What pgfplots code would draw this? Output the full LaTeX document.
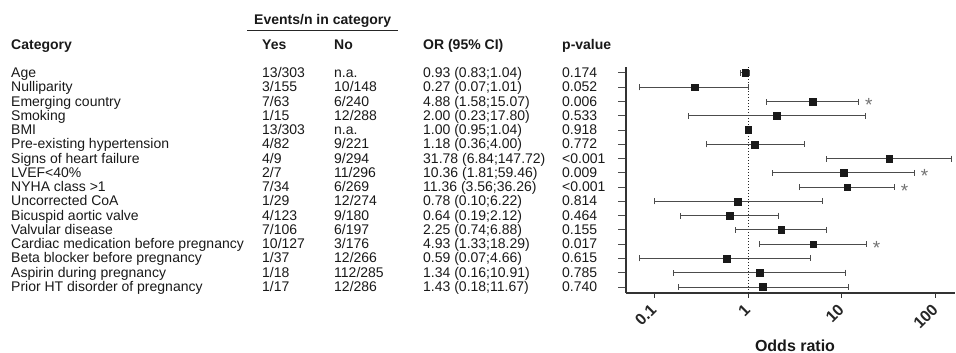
\documentclass[border=0pt]{standalone}
\usepackage{fontspec}
\setmainfont{Liberation Sans}
\usepackage{pgfplots}
\pgfplotsset{compat=1.18}
\usepackage{pgfplotstable}

\pgfplotstableread{
y or lo hi
16 0.93 0.83 1.04
15 0.27 0.07 1.01
14 4.88 1.58 15.07
13 2.00 0.23 17.80
12 1.00 0.95 1.04
11 1.18 0.36 4.00
10 31.78 6.84 147.72
9 10.36 1.81 59.46
8 11.36 3.56 36.26
7 0.78 0.10 6.22
6 0.64 0.19 2.12
5 2.25 0.74 6.88
4 4.93 1.33 18.29
3 0.59 0.07 4.66
2 1.34 0.16 10.91
1 1.43 0.18 11.67
}\ortable

\newcommand\tabrow[6]{%
  \pgfmathsetmacro\yy{275.5-(#1-1)*14.267}%
  \node[anchor=base west,inner sep=0] at (11pt,\yy pt) {#2};
  \node[anchor=base west,inner sep=0] at (262pt,\yy pt) {#3};
  \node[anchor=base west,inner sep=0] at (334pt,\yy pt) {#4};
  \node[anchor=base west,inner sep=0] at (423pt,\yy pt) {#5};
  \node[anchor=base west,inner sep=0] at (562pt,\yy pt) {#6};
}

\begin{document}
\fontsize{14}{16}\selectfont
\begin{tikzpicture}
\useasboundingbox (0,0) rectangle (956pt,353pt);
% header
\begin{scope}[every node/.style={font=\fontsize{14}{16}\selectfont\bfseries, anchor=base west, inner sep=0, text=black!90}]
\node at (254pt,328pt) {Events/n in category};
\node at (11pt,303.5pt) {Category};
\node at (262pt,303.5pt) {Yes};
\node at (334pt,303.5pt) {No};
\node at (423pt,303.5pt) {OR (95\% CI)};
\node at (562pt,303.5pt) {p-value};
\end{scope}
\draw[line width=1.3pt, black!85] (247pt,322.3pt) -- (398pt,322.3pt);
\begin{scope}[every node/.style={text=black!90}]
\tabrow{1}{Age}{13/303}{n.a.}{0.93 (0.83;1.04)}{0.174}
\tabrow{2}{Nulliparity}{3/155}{10/148}{0.27 (0.07;1.01)}{0.052}
\tabrow{3}{Emerging country}{7/63}{6/240}{4.88 (1.58;15.07)}{0.006}
\tabrow{4}{Smoking}{1/15}{12/288}{2.00 (0.23;17.80)}{0.533}
\tabrow{5}{BMI}{13/303}{n.a.}{1.00 (0.95;1.04)}{0.918}
\tabrow{6}{Pre-existing hypertension}{4/82}{9/221}{1.18 (0.36;4.00)}{0.772}
\tabrow{7}{Signs of heart failure}{4/9}{9/294}{31.78 (6.84;147.72)}{<0.001}
\tabrow{8}{LVEF<40\%}{2/7}{11/296}{10.36 (1.81;59.46)}{0.009}
\tabrow{9}{NYHA class >1}{7/34}{6/269}{11.36 (3.56;36.26)}{<0.001}
\tabrow{10}{Uncorrected CoA}{1/29}{12/274}{0.78 (0.10;6.22)}{0.814}
\tabrow{11}{Bicuspid aortic valve}{4/123}{9/180}{0.64 (0.19;2.12)}{0.464}
\tabrow{12}{Valvular disease}{7/106}{6/197}{2.25 (0.74;6.88)}{0.155}
\tabrow{13}{Cardiac medication before pregnancy}{10/127}{3/176}{4.93 (1.33;18.29)}{0.017}
\tabrow{14}{Beta blocker before pregnancy}{1/37}{12/266}{0.59 (0.07;4.66)}{0.615}
\tabrow{15}{Aspirin during pregnancy}{1/18}{112/285}{1.34 (0.16;10.91)}{0.785}
\tabrow{16}{Prior HT disorder of pregnancy}{1/17}{12/286}{1.43 (0.18;11.67)}{0.740}
\end{scope}

\begin{axis}[
  at={(626pt,60pt)}, anchor=south west,
  scale only axis, width=329pt, height=226pt,
  xmode=log, xmin=0.05, xmax=160, ymin=0.58, ymax=16.42,
  axis x line*=bottom, axis y line*=left,
  axis line style={-, black!80, line width=1.1pt},
  xtick={0.1,1,10,100},
  xticklabels={\textbf{0.1},\textbf{1},\textbf{10},\textbf{100}},
  xminorticks=false,
  ytick={1,...,16}, yticklabels={},
  tick align=outside,
  xtick style={black!80, line width=1pt, /pgfplots/major tick length=5pt},
  ytick style={black!70, line width=1pt, /pgfplots/major tick length=8pt},
  xticklabel style={yshift=-9pt, rotate=45, anchor=east, font=\fontsize{16}{16}\selectfont\bfseries, inner sep=1pt, text=black!85},
  /pgf/number format/assume math mode=true,
  clip=false,
]
\addplot[black!85, dotted, line width=1pt] coordinates {(1,0.58) (1,16.42)};
\addplot[only marks, mark=square*, mark size=3.4pt, mark options={fill=black!90, draw=black!90},
  error bars/.cd, x dir=both, x explicit, error mark=|,
  error bar style={line width=1pt, black!70},
  error mark options={line width=1pt, black!70, mark size=3pt}]
  table[x=or, y=y, x error plus expr=\thisrow{hi}-\thisrow{or}, x error minus expr=\thisrow{or}-\thisrow{lo}] {\ortable};
\begin{scope}[every node/.style={anchor=center, inner sep=0, text=black!55, font=\fontsize{19}{19}\selectfont}]
\node[xshift=10pt, yshift=-3.5pt] at (axis cs:15.07,14) {*};
\node[xshift=10pt, yshift=-3.5pt] at (axis cs:59.46,9) {*};
\node[xshift=10pt, yshift=-3.5pt] at (axis cs:36.26,8) {*};
\node[xshift=10pt, yshift=-3.5pt] at (axis cs:18.29,4) {*};
\end{scope}
\end{axis}
\node[anchor=base, inner sep=0, font=\fontsize{16}{16}\selectfont\bfseries, text=black!90] at (795pt,1.5pt) {Odds ratio};
\end{tikzpicture}
\end{document}
